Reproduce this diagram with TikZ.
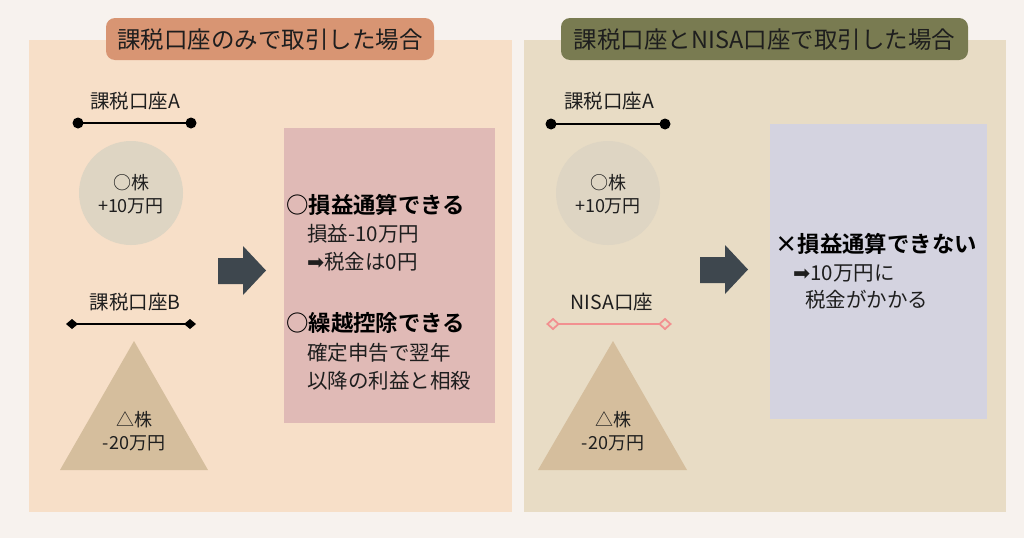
\documentclass[tikz,border=0pt]{standalone}
\usepackage{fontspec}
\setmainfont{Noto Sans CJK JP}
\newfontfamily\jpbold{Noto Sans CJK JP}[BoldFont={* Bold}]
\newfontfamily\sym{DejaVu Sans}
\usetikzlibrary{shapes.geometric,arrows.meta}
\definecolor{bgc}{HTML}{F7F2EE}
\definecolor{leftp}{HTML}{F7DFC8}
\definecolor{rightp}{HTML}{E8DCC5}
\definecolor{ltitle}{HTML}{D89573}
\definecolor{rtitle}{HTML}{797B51}
\definecolor{pinkbox}{HTML}{E0BAB6}
\definecolor{bluebox}{HTML}{D4D3E0}
\definecolor{circc}{HTML}{DED5C3}
\definecolor{tric}{HTML}{D5BE9D}
\definecolor{arrc}{HTML}{3E474E}
\definecolor{nisac}{HTML}{F29090}
\definecolor{txt}{HTML}{1E1E1E}
\tikzset{
  titlebox/.style={inner sep=0pt, font=\fontsize{23.5}{26}\selectfont, text=txt},
  lbl/.style={font=\fontsize{19.5}{22}\selectfont, text=txt, inner sep=0pt},
  small/.style={font=\fontsize{18}{23}\selectfont, text=txt, align=center, inner sep=0pt},
  body/.style={font=\fontsize{20.5}{23}\selectfont, text=txt, anchor=west, inner sep=0pt},
  head/.style={font=\jpbold\bfseries\fontsize{22.4}{25}\selectfont, text=black, anchor=west, inner sep=0pt},
  blockarrow/.style={fill=arrc, draw=none},
  acc/.style={line width=2.4pt, draw=black},
}
\begin{document}
\begin{tikzpicture}[x=1pt,y=-1pt]
\fill[bgc] (0,0) rectangle (1024,538);
\useasboundingbox (0,0) rectangle (1024,538);
% panels
\fill[leftp] (29,40) rectangle (512,512);
\fill[rightp] (524,40) rectangle (1006,512);
% titles
\fill[ltitle, rounded corners=9pt] (106,18) rectangle (434,60);
\node[titlebox] (lt) at (270,40) {課税口座のみで取引した場合};
\fill[rtitle, rounded corners=9pt] (561,18) rectangle (968,60);
\node[titlebox] (rt) at (764.5,40) {課税口座とNISA口座で取引した場合};

% ===== left
\node[lbl] (la) at (135,101) {課税口座A};
\coordinate (la1) at (78,123);
\coordinate (la2) at (191,123);
\draw[acc] (la1) -- (la2);
\fill (la1) circle (5.5pt);
\fill (la2) circle (5.5pt);
\fill[circc] (131,193) circle (52);
\node[small] (lc) at (131,194.5) {○株\\+10万円};

\node[lbl] (lb) at (135,302) {課税口座B};
\coordinate (lb1) at (72,324);
\coordinate (lb2) at (190,324);
\draw[acc] (lb1) -- (lb2);
\fill (lb1) ++(-6,0) -- ++(6,-5) -- ++(6,5) -- ++(-6,5) -- cycle;
\fill (lb2) ++(-6,0) -- ++(6,-5) -- ++(6,5) -- ++(-6,5) -- cycle;
\fill[tric] (134,341) -- (208,470) -- (60,470) -- cycle;
\node[small] (ltri) at (134,431.5) {△株\\-20万円};

% arrow left
\fill[blockarrow] (218,258) -- (243,258) -- (243,246) -- (266,270.5) -- (243,295) -- (243,284) -- (218,284) -- cycle;

% pink box
\fill[pinkbox] (284,128) rectangle (495,423);
\node[head] (h1) at (286,205) {○損益通算できる};
\node[body] (b1) at (307,234) {損益-10万円};
\node[body] (b2) at (307,262) {{\sym ➡}税金は0円};
\node[head] (h2) at (286,323) {○繰越控除できる};
\node[body] (b3) at (307,353) {確定申告で翌年};
\node[body] (b4) at (307,381) {以降の利益と相殺};

% ===== right
\node[lbl] (ra) at (609,101) {課税口座A};
\coordinate (ra1) at (551,124);
\coordinate (ra2) at (665,124);
\draw[acc] (ra1) -- (ra2);
\fill (ra1) circle (5.5pt);
\fill (ra2) circle (5.5pt);
\fill[circc] (608,193) circle (52);
\node[small] (rc) at (608,194.5) {○株\\+10万円};

\node[lbl] (rn) at (612,302) {NISA口座};
\coordinate (rn1) at (553,324);
\coordinate (rn2) at (665,324);
\draw[line width=2.6pt, nisac] (rn1) -- (rn2);
\draw[nisac, line width=1.8pt, fill=rightp] (rn1) ++(-5.5,0) -- ++(5.5,-5) -- ++(5.5,5) -- ++(-5.5,5) -- cycle;
\draw[nisac, line width=1.8pt, fill=rightp] (rn2) ++(-5.5,0) -- ++(5.5,-5) -- ++(5.5,5) -- ++(-5.5,5) -- cycle;
\fill[tric] (613,341) -- (687,470) -- (538,470) -- cycle;
\node[small] (rtri) at (613,431.5) {△株\\-20万円};

% arrow right
\fill[blockarrow] (700,257) -- (725,257) -- (725,245) -- (748,269.5) -- (725,294) -- (725,283) -- (700,283) -- cycle;

% blue box
\fill[bluebox] (770,124) rectangle (987,419);
\node[head] (h3) at (775,244) {×損益通算できない};
\node[body] (b5) at (793,273) {{\sym ➡}10万円に};
\node[body] (b6) at (805,300) {税金がかかる};
\end{tikzpicture}
\end{document}
